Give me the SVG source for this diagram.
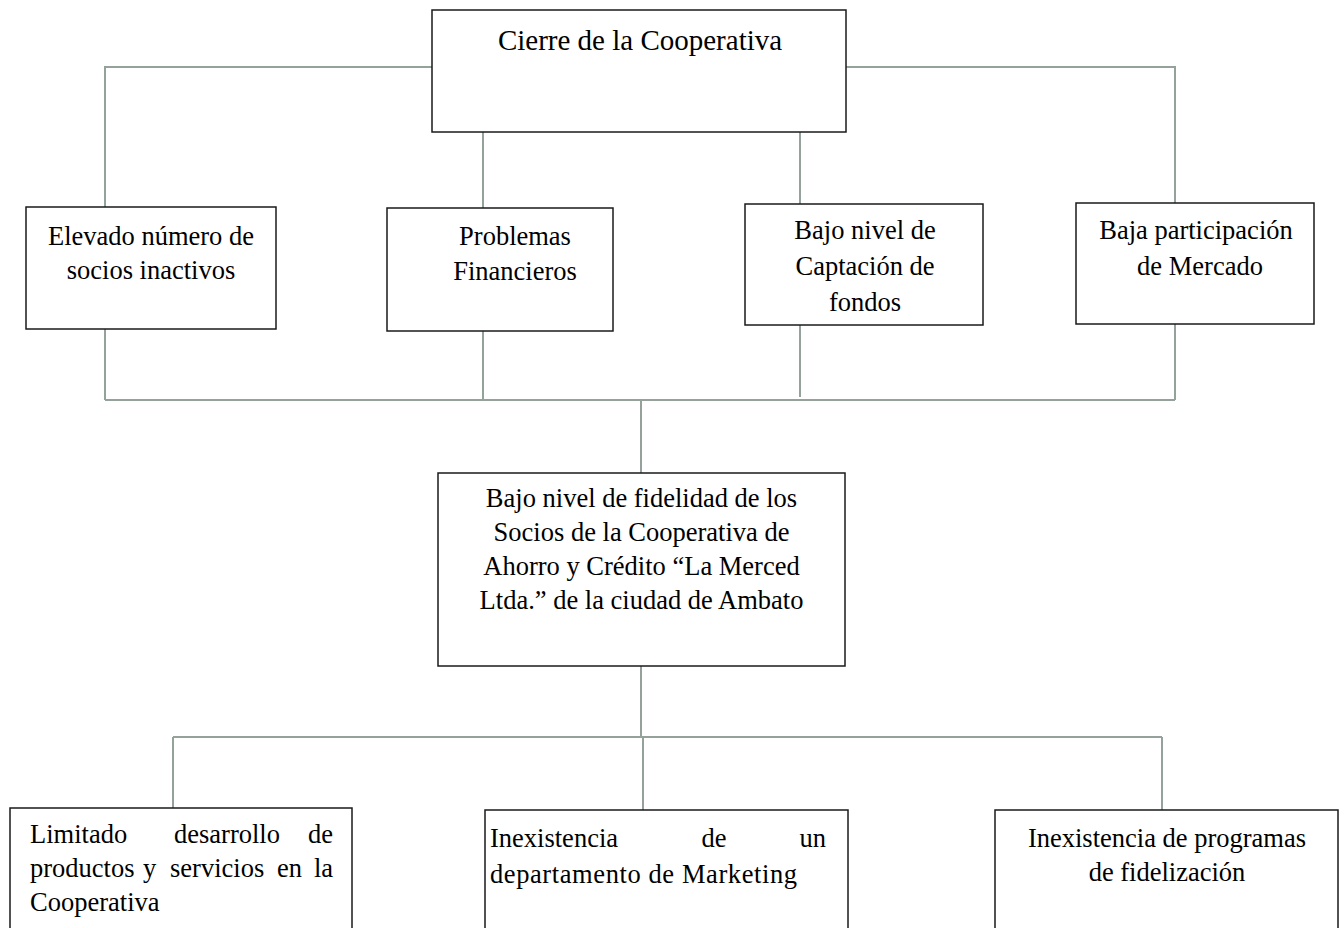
<svg xmlns="http://www.w3.org/2000/svg" width="1344" height="928" viewBox="0 0 1344 928">
  <style>
    .box { fill: #ffffff; stroke: #1a1a1a; stroke-width: 1.5; }
    .wire { fill: none; stroke: #95a29b; stroke-width: 2; }
    text { font-family: "Liberation Serif", "Times New Roman", serif; font-size: 26.5px; fill: #000000; }
    .c { text-anchor: middle; }
    .e { text-anchor: end; }
    .title { font-size: 29px; }
  </style>
  <rect width="1344" height="928" fill="#ffffff"/>

  <!-- connectors -->
  <g id="connectors">
    <!-- top effect to its four causes -->
    <polyline class="wire" points="105,207 105,67 432,67"/>
    <polyline class="wire" points="846,67 1175,67 1175,203"/>
    <line class="wire" x1="483" y1="132" x2="483" y2="208"/>
    <line class="wire" x1="800" y1="132" x2="800" y2="204"/>
    <!-- causes gathered into the central problem -->
    <line class="wire" x1="105" y1="329" x2="105" y2="400"/>
    <line class="wire" x1="483" y1="331" x2="483" y2="400"/>
    <line class="wire" x1="800" y1="325" x2="800" y2="397"/>
    <line class="wire" x1="1175" y1="324" x2="1175" y2="400"/>
    <line class="wire" x1="105" y1="400" x2="1175" y2="400"/>
    <line class="wire" x1="641" y1="400" x2="641" y2="473"/>
    <!-- central problem to the root causes -->
    <line class="wire" x1="641" y1="666" x2="641" y2="737"/>
    <line class="wire" x1="173" y1="737" x2="1162" y2="737"/>
    <line class="wire" x1="173" y1="737" x2="173" y2="808"/>
    <line class="wire" x1="643" y1="737" x2="643" y2="810"/>
    <line class="wire" x1="1162" y1="737" x2="1162" y2="810"/>
  </g>

  <g id="cierre">
    <rect class="box" x="432" y="10" width="414" height="122"/>
    <text class="c title" x="640" y="50">Cierre de la Cooperativa</text>
  </g>

  <g id="socios-inactivos">
    <rect class="box" x="26" y="207" width="250" height="122"/>
    <text class="c" x="151" y="245">Elevado número de</text>
    <text class="c" x="151" y="279">socios inactivos</text>
  </g>

  <g id="problemas-financieros">
    <rect class="box" x="387" y="208" width="226" height="123"/>
    <text class="c" x="515" y="245">Problemas</text>
    <text class="c" x="515" y="280">Financieros</text>
  </g>

  <g id="captacion">
    <rect class="box" x="745" y="204" width="238" height="121"/>
    <text class="c" x="865" y="239">Bajo nivel de</text>
    <text class="c" x="865" y="275">Captación de</text>
    <text class="c" x="865" y="311">fondos</text>
  </g>

  <g id="participacion">
    <rect class="box" x="1076" y="203" width="238" height="121"/>
    <text class="c" x="1196" y="239">Baja participación</text>
    <text class="c" x="1200" y="275">de Mercado</text>
  </g>

  <g id="fidelidad">
    <rect class="box" x="438" y="473" width="407" height="193"/>
    <text class="c" x="641.5" y="507">Bajo nivel de fidelidad de los</text>
    <text class="c" x="641.5" y="541">Socios de la Cooperativa de</text>
    <text class="c" x="641.5" y="575">Ahorro y Crédito “La Merced</text>
    <text class="c" x="641.5" y="609">Ltda.” de la ciudad de Ambato</text>
  </g>

  <g id="desarrollo-productos">
    <rect class="box" x="10" y="808" width="342" height="130"/>
    <text x="30" y="843">Limitado</text>
    <text class="c" x="227" y="843">desarrollo</text>
    <text class="e" x="333" y="843">de</text>
    <text x="30" y="877">productos</text>
    <text x="143" y="877">y</text>
    <text x="170" y="877">servicios</text>
    <text x="277" y="877">en</text>
    <text class="e" x="333" y="877">la</text>
    <text x="30" y="911">Cooperativa</text>
  </g>

  <g id="marketing">
    <rect class="box" x="485" y="810" width="363" height="128"/>
    <text x="490" y="847">Inexistencia</text>
    <text class="c" x="714" y="847">de</text>
    <text class="e" x="826" y="847">un</text>
    <text x="490" y="883" textLength="307" lengthAdjust="spacing">departamento de Marketing</text>
  </g>

  <g id="programas-fidelizacion">
    <rect class="box" x="995" y="810" width="343" height="128"/>
    <text class="c" x="1167" y="847">Inexistencia de programas</text>
    <text class="c" x="1167" y="881">de fidelización</text>
  </g>
</svg>
